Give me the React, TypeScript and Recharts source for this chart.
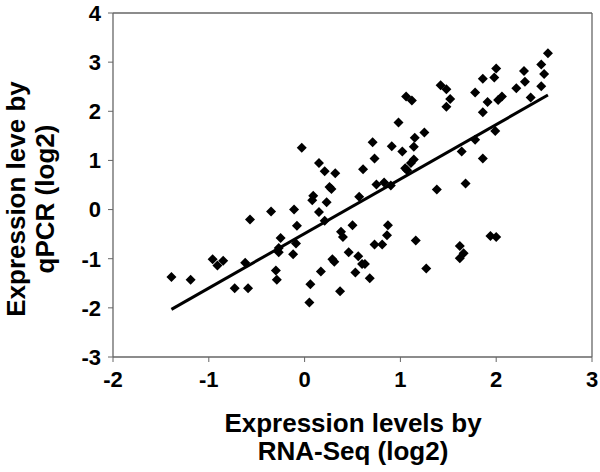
import React from 'react';
import { ScatterChart, Scatter, XAxis, YAxis, ReferenceLine } from 'recharts';

// RNA-Seq (x) vs qPCR (y), log2
const rnaSeq = [
  -1.39, -1.19, -0.96, -0.85, -0.91, -0.62, -0.73, -0.59, -0.57, -0.35,
  -0.11, -0.03, 0.15, 0.21, 0.26, 0.28, 0.09, 0.08, 0.23, 0.15,
  -0.08, 0.21, -0.25, -0.27, -0.27, -0.09, -0.12, -0.3, -0.29, 0.06,
  0.05, 0.17, 0.29, 0.31, 0.32, 0.61, 0.57, 0.75, 0.83, 0.9,
  0.71, 0.73, 0.91, 0.98, 1.02, 1.06, 1.12, 1.14, 1.15, 1.25,
  1.14, 1.11, 1.05, 1.07, 1.42, 1.48, 1.52, 1.48, 1.38, 1.64,
  1.68, 1.78, 1.86, 1.99, 1.86, 1.78, 1.91, 2.02, 2.06, 1.86,
  1.98, 2.0, 2.21, 2.29, 2.3, 2.36, 2.47, 2.5, 2.47, 2.54,
  0.38, 0.4, 0.5, 0.87, 0.86, 1.16, 1.94, 2.0, 0.73, 0.81,
  1.62, 1.66, 1.62, 0.46, 0.56, 0.6, 0.63, 0.53, 0.68, 1.27,
  0.37,
];
const qpcr = [
  -1.37, -1.43, -1.01, -1.04, -1.14, -1.08, -1.6, -1.6, -0.2, -0.04,
  0.0, 1.26, 0.95, 0.78, 0.46, 0.42, 0.28, 0.19, 0.15, -0.05,
  -0.33, -0.23, -0.58, -0.78, -0.87, -0.69, -0.91, -1.24, -1.43, -1.52,
  -1.89, -1.26, -1.01, -1.06, 0.74, 0.82, 0.26, 0.51, 0.55, 0.49,
  1.37, 1.04, 1.29, 1.77, 1.18, 2.3, 2.22, 1.28, 1.46, 1.57,
  1.02, 0.95, 0.84, 0.8, 2.53, 2.45, 2.25, 2.09, 0.41, 1.18,
  0.53, 1.42, 1.04, 1.6, 1.98, 2.38, 2.19, 2.23, 2.3, 2.66,
  2.69, 2.87, 2.47, 2.82, 2.6, 2.28, 2.51, 2.76, 2.95, 3.18,
  -0.45, -0.56, -0.32, -0.32, -0.52, -0.63, -0.54, -0.56, -0.71, -0.71,
  -0.74, -0.89, -0.99, -0.87, -0.95, -1.11, -1.11, -1.28, -1.4, -1.2,
  -1.66,
];

// linear trend line end points
const trendX = [-1.39, 2.54];
const trendY = [-2.03, 2.33];

const xTicks = [-2, -1, 0, 1, 2, 3];
const yTicks = [-3, -2, -1, 0, 1, 2, 3, 4];

const points = rnaSeq.map((x, i) => ({ x, y: qpcr[i] }));
const trend = trendX.map((x, i) => ({ x, y: trendY[i] }));

const FONT = '"Liberation Sans", Arial, sans-serif';
const AXIS = '#666';

const Diamond = (props: any) => {
  const { cx, cy } = props;
  const r = 5;
  return <path d={`M${cx},${cy - r}L${cx + r},${cy}L${cx},${cy + r}L${cx - r},${cy}Z`} fill="#000" />;
};

const tickStyle = { fontSize: 22, fontWeight: 700, fill: '#000', fontFamily: FONT };

export default function App() {
  return (
    <div style={{ position: 'absolute', left: 0, top: 0, width: 600, height: 472, background: '#fff' }}>
      <ScatterChart width={600} height={472} margin={{ top: 13, right: 8, bottom: 0, left: 0 }}>
        <XAxis
          type="number"
          dataKey="x"
          domain={[-2, 3]}
          ticks={xTicks}
          height={115}
          tick={tickStyle}
          tickSize={5}
          tickMargin={9}
          axisLine={{ stroke: AXIS, strokeWidth: 1.3 }}
          tickLine={{ stroke: AXIS }}
        />
        <YAxis
          type="number"
          dataKey="y"
          domain={[-3, 4]}
          ticks={yTicks}
          width={113}
          tick={tickStyle}
          tickSize={5}
          tickMargin={7}
          axisLine={{ stroke: AXIS, strokeWidth: 1.3 }}
          tickLine={{ stroke: AXIS }}
        />
        <ReferenceLine y={4} stroke={AXIS} strokeWidth={1.3} />
        <ReferenceLine x={3} stroke={AXIS} strokeWidth={1.3} />
        <Scatter data={points} shape={Diamond} isAnimationActive={false} />
        <Scatter
          data={trend}
          line={{ stroke: '#000', strokeWidth: 3 }}
          shape={() => <g />}
          isAnimationActive={false}
        />
        <text x={353} y={432} textAnchor="middle" fontSize={26} fontWeight={700} fontFamily={FONT} fill="#000">
          Expression levels by
        </text>
        <text x={353} y={460} textAnchor="middle" fontSize={26} fontWeight={700} fontFamily={FONT} fill="#000">
          RNA-Seq (log2)
        </text>
        <text
          transform="translate(25,199) rotate(-90)"
          textAnchor="middle"
          fontSize={26}
          fontWeight={700}
          fontFamily={FONT}
          fill="#000"
        >
          Expression leve by
        </text>
        <text
          transform="translate(54,199) rotate(-90)"
          textAnchor="middle"
          fontSize={26}
          fontWeight={700}
          fontFamily={FONT}
          fill="#000"
        >
          qPCR (log2)
        </text>
      </ScatterChart>
    </div>
  );
}
